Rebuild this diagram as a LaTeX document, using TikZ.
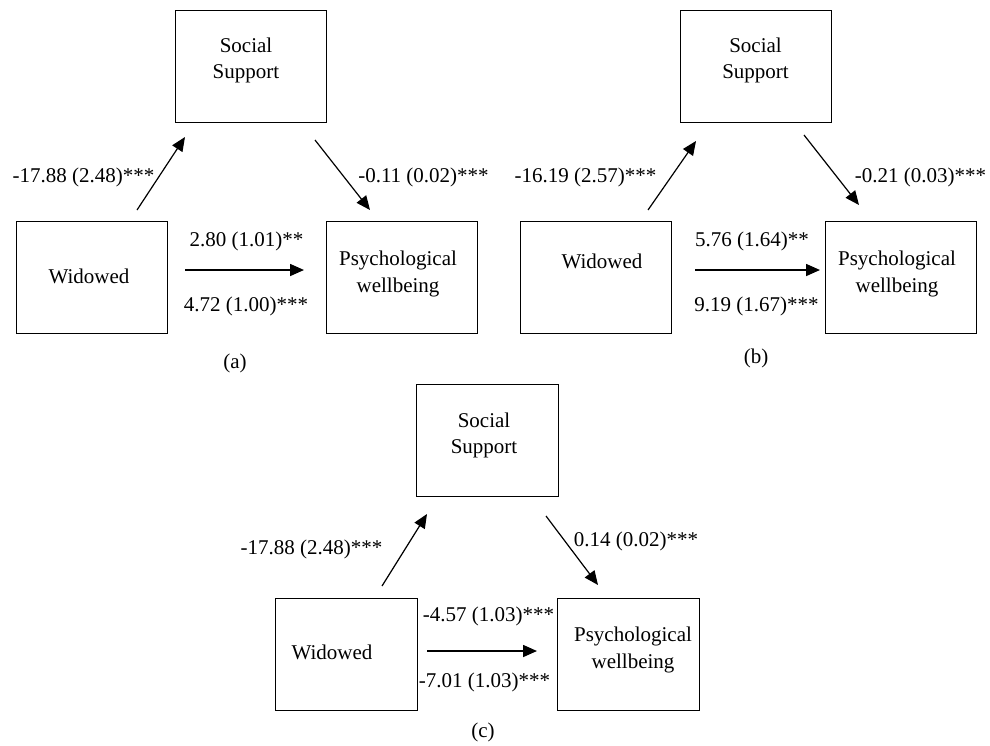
\documentclass[tikz,border=0pt]{standalone}
\usepackage{fontspec}
\setmainfont{Liberation Serif}
\usetikzlibrary{arrows.meta}
\tikzset{
  box/.style={draw, line width=0.9pt, minimum width=151pt, minimum height=112pt, inner sep=0pt},
  narrowbox/.style={box, minimum width=142pt},
  boxtext/.style={align=center},
  coef/.style={inner sep=0pt},
  arr/.style={line width=1.2pt, -{Triangle[length=14pt,width=12pt]}},
  harr/.style={arr, line width=1.6pt}
}
\begin{document}
\begin{tikzpicture}[x=1pt, y=-1pt, font=\fontsize{21}{26.5}\selectfont]
  \useasboundingbox [fill=white] (0,0) rectangle (990,745);
  % (a)
  \node [box, label={[boxtext, xshift=-4.5pt, yshift=5.5pt]center:Social\\Support}] (ssa) at (250.5,66) {};
  \node [box, label={[boxtext, xshift=-2.5pt, yshift=1pt]center:Widowed}] (wia) at (91.5,277) {};
  \node [box, label={[boxtext, xshift=-3.5pt, yshift=3pt]center:Psychological\\wellbeing}] (pwa) at (401.5,277) {};
  \coordinate (upa1) at (137,210);
  \coordinate (upa2) at (185,137);
  \coordinate (dna1) at (315,140);
  \coordinate (dna2) at (370,210);
  \coordinate (hza1) at (185,270);
  \coordinate (hza2) at (304,270);
  \draw [arr] (upa1) -- (upa2);
  \draw [arr] (dna1) -- (dna2);
  \draw [harr] (hza1) -- (hza2);
  \node [coef] (ca1) at (83.5,177) {-17.88 (2.48)***};
  \node [coef] (ca2) at (423.5,177) {-0.11 (0.02)***};
  \node [coef] (ca3) at (246.5,241) {2.80 (1.01)**};
  \node [coef] (ca4) at (246,306) {4.72 (1.00)***};
  % (b)
  \node [box, label={[boxtext, yshift=5.5pt]center:Social\\Support}] (ssb) at (755.5,66) {};
  \node [box, label={[boxtext, xshift=6pt, yshift=16pt]center:Widowed}] (wib) at (596,277) {};
  \node [box, label={[boxtext, xshift=-3.5pt, yshift=3pt]center:Psychological\\wellbeing}] (pwb) at (900.5,277) {};
  \coordinate (upb1) at (648,210);
  \coordinate (upb2) at (696,141);
  \coordinate (dnb1) at (804,135);
  \coordinate (dnb2) at (859,205);
  \coordinate (hzb1) at (695,270);
  \coordinate (hzb2) at (820,270);
  \draw [arr] (upb1) -- (upb2);
  \draw [arr] (dnb1) -- (dnb2);
  \draw [harr] (hzb1) -- (hzb2);
  \node [coef] (cb1) at (585.5,177) {-16.19 (2.57)***};
  \node [coef] (cb2) at (920.5,177) {-0.21 (0.03)***};
  \node [coef] (cb3) at (752,241) {5.76 (1.64)**};
  \node [coef] (cb4) at (756.5,306) {9.19 (1.67)***};
  % (c)
  \node [narrowbox, label={[boxtext, xshift=-3pt, yshift=5pt]center:Social\\Support}] (ssc) at (487,440.5) {};
  \node [narrowbox, label={[boxtext, xshift=-14pt, yshift=2pt]center:Widowed}] (wic) at (346,654) {};
  \node [narrowbox, label={[boxtext, xshift=4.5pt, yshift=4pt]center:Psychological\\wellbeing}] (pwc) at (628.5,654) {};
  \coordinate (upc1) at (382,586);
  \coordinate (upc2) at (427,514);
  \coordinate (dnc1) at (546,516);
  \coordinate (dnc2) at (598,585);
  \coordinate (hzc1) at (427,651);
  \coordinate (hzc2) at (537,651);
  \draw [arr] (upc1) -- (upc2);
  \draw [arr] (dnc1) -- (dnc2);
  \draw [harr] (hzc1) -- (hzc2);
  \node [coef] (cc1) at (311.5,549) {-17.88 (2.48)***};
  \node [coef] (cc2) at (636,541) {0.14 (0.02)***};
  \node [coef] (cc3) at (488.5,616) {-4.57 (1.03)***};
  \node [coef] (cc4) at (484.5,682) {-7.01 (1.03)***};
  \foreach \p/\x/\y in {a/235/363, b/756/358, c/483/732}
  {
    \node [coef] (cap\p) at (\x,\y) {(\p)};
  }
\end{tikzpicture}
\end{document}
